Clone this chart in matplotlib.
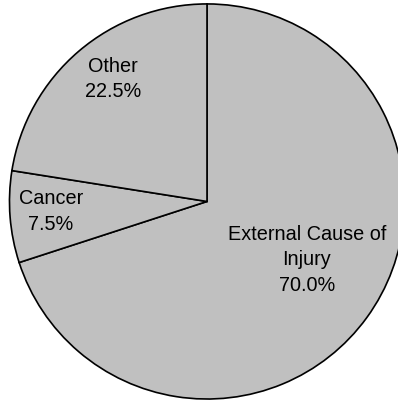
import matplotlib.pyplot as plt

# causes and their shares (%)
causes = ['External Cause of\nInjury', 'Cancer', 'Other']
shares = [70.0, 7.5, 22.5]

# where each label sits, in pie units (radius = 1)
label_pos = [(0.506, -0.291), (-0.79, -0.045), (-0.476, 0.625)]

plt.rcParams['font.family'] = ['Liberation Sans', 'DejaVu Sans']

fig = plt.figure(figsize=(3.98, 4.02), dpi=100)
ax = fig.add_axes([0, 0, 1, 1])

ax.pie(shares, startangle=90, counterclock=False,
       colors=['#c0c0c0'] * len(shares),
       wedgeprops=dict(edgecolor='black', linewidth=1.2))

for name, val, (x, y) in zip(causes, shares, label_pos):
    ax.text(x, y, f'{name}\n{val:.1f}%', ha='center', va='center',
            fontsize=14.3, color='black', linespacing=1.45)

ax.set_aspect('auto')
ax.set_xlim(-1.048, 0.967)
ax.set_ylim(-1.010, 1.025)
ax.axis('off')

fig.savefig('out.png', dpi=100, facecolor='white')
